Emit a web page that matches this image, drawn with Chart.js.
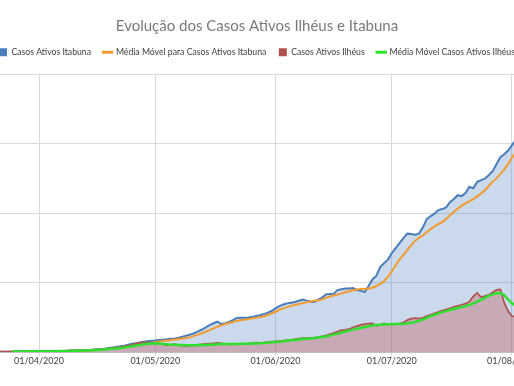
<!DOCTYPE html>
<html><head><meta charset="utf-8">
<script src="https://cdn.jsdelivr.net/npm/chart.js@4.4.0/dist/chart.umd.min.js"></script>
<style>
html,body{margin:0;padding:0;overflow:hidden;background:#fff;width:514px;height:386px;position:relative;}
#wrap{position:absolute;left:-63px;top:0;width:640px;height:386px;}
</style></head><body>
<div id="wrap"><canvas id="c" width="640" height="386"></canvas></div>
<script>
// Series: one value per day starting 16/03/2020
const seriesStart = [2020, 3, 16];
const casosItabuna = [
0,0,0,0,0,0,1,1,1,2,
2,2,3,3,3,4,4,5,5,6,
7,7,8,8,9,10,11,12,13,15,
17,19,21,24,28,32,36,41,46,52,
59,63,68,73,77,81,83,86,89,92,
95,98,103,110,118,126,135,148,162,178,
194,207,218,201,208,216,229,245,246,247,
248,253,259,265,273,283,295,314,331,342,
350,355,360,369,378,370,363,360,378,392,
415,418,420,446,452,457,458,460,446,440,
432,475,522,547,611,640,665,712,748,784,
820,852,849,845,852,896,957,978,996,1022,
1029,1040,1079,1101,1129,1122,1144,1189,1178,1223,
1237,1248,1273,1302,1352,1403,1424,1450,1489,1532,
1570,1600,1630];
const mediaItabuna = [
null,null,null,null,null,null,null,null,null,1,
1,2,2,2,3,3,3,4,4,5,
5,6,6,7,8,8,9,10,11,12,
14,15,17,19,22,25,28,32,36,41,
46,50,54,58,63,67,71,75,79,83,
87,90,94,97,100,107,116,125,135,146,
157,170,182,192,201,209,216,223,230,233,
237,242,247,251,256,266,278,290,304,314,
323,332,339,346,352,358,364,369,372,378,
390,400,407,413,422,430,437,444,450,453,
455,457,462,475,490,510,540,580,625,665,
700,735,770,800,822,840,862,885,903,920,
935,958,985,1010,1032,1052,1070,1085,1100,1120,
1140,1165,1195,1225,1250,1280,1315,1352,1400,1440,
1475,1510,1545];
const casosIlheus = [
1,1,2,2,2,3,3,3,3,3,
4,4,4,5,5,5,6,6,7,7,
8,8,9,10,11,12,13,14,15,16,
17,18,20,22,25,28,32,36,40,44,
52,60,67,69,68,67,66,60,55,50,
52,56,50,46,43,45,48,52,55,58,
60,62,66,63,58,56,55,57,58,57,
60,63,67,66,68,72,74,76,79,82,
86,88,92,97,99,99,100,102,107,112,
118,128,136,148,158,160,164,178,186,195,
201,204,206,188,196,206,199,200,202,204,
212,230,240,243,241,246,258,268,278,288,
298,305,315,326,333,340,348,362,400,425,
395,402,412,428,448,451,355,295,258,256,
254,252,250];
const mediaIlheus = [
null,null,null,null,null,null,null,null,null,3,
3,4,4,5,5,5,6,6,6,6,
6,7,7,8,8,9,9,10,11,12,
13,14,16,18,21,24,26,28,32,37,
42,47,51,55,59,62,63,61,58,55,
53,52,51,50,49,49,49,50,50,51,
52,53,55,57,58,58,58,58,59,59,
60,61,62,63,65,67,70,72,74,77,
81,84,87,90,93,96,98,101,104,108,
112,118,125,132,140,147,154,161,167,173,
180,186,191,195,197,198,199,200,201,201,
203,206,211,216,224,234,246,258,268,278,
287,294,302,310,317,323,330,338,350,362,
375,390,405,415,423,425,408,378,350,330,
310,295,285];
const seriesNames = ['Casos Ativos Itabuna','Média Móvel para Casos Ativos Itabuna','Casos Ativos Ilhéus','Média Móvel Casos Ativos Ilhéus'];
const yTicks = [0, 500, 1000, 1500, 2000];

// category labels (dd/mm/yyyy) for each day of the series
const dateLabels = [];
for (let i = 0; i < casosItabuna.length; i++) {
  const d = new Date(Date.UTC(seriesStart[0], seriesStart[1]-1, seriesStart[2] + i));
  const dd = String(d.getUTCDate()).padStart(2,'0');
  const mm = String(d.getUTCMonth()+1).padStart(2,'0');
  dateLabels.push(dd + '/' + mm + '/' + d.getUTCFullYear());
}
const isMonthStart = i => dateLabels[i] && dateLabels[i].startsWith('01/');

const FONT = 'Lato, "Liberation Sans", sans-serif';
const colors = ['#4a7ebb', '#f29b2c', '#b0504f', '#2ee02e'];
const legendStyles = ['rect', 'line', 'rect', 'line'];

const legendSpacer = {
  id: 'legendSpacer',
  beforeInit(chart) {
    const orig = chart.legend.fit;
    chart.legend.fit = function () { orig.bind(chart.legend)(); this.height += 7.5; };
  }
};

new Chart(document.getElementById('c'), {
  type: 'line',
  data: {
    labels: dateLabels,
    datasets: [
      { label: seriesNames[0], data: casosItabuna, borderColor: colors[0], backgroundColor: 'rgba(79,129,189,0.30)', fill: 'origin', borderWidth: 2, pointRadius: 0, order: 4 },
      { label: seriesNames[1], data: mediaItabuna, borderColor: colors[1], fill: false, borderWidth: 2, pointRadius: 0, order: 3 },
      { label: seriesNames[2], data: casosIlheus, borderColor: colors[2], backgroundColor: 'rgba(192,80,77,0.34)', fill: 'origin', borderWidth: 1.75, pointRadius: 0, order: 2 },
      { label: seriesNames[3], data: mediaIlheus, borderColor: colors[3], fill: false, borderWidth: 2.5, pointRadius: 0, order: 1 }
    ]
  },
  options: {
    responsive: false,
    animation: false,
    devicePixelRatio: 1,
    layout: { padding: { left: 40, right: 40, top: 0, bottom: 0 } },
    plugins: {
      tooltip: { enabled: false },
      title: {
        display: true,
        text: 'Evolução dos Casos Ativos Ilhéus e Itabuna',
        color: '#7a7a7a',
        font: { family: FONT, size: 15, weight: 'normal' },
        padding: { top: 17, bottom: 0.5 }
      },
      legend: {
        display: true,
        position: 'top',
        labels: {
          usePointStyle: true,
          boxWidth: 8, boxHeight: 8,
          padding: 12.5,
          color: '#404040',
          font: { family: FONT, size: 8.7 },
          generateLabels: chart => chart.data.datasets.map((ds, i) => ({
            text: ds.label, fillStyle: colors[i], strokeStyle: colors[i],
            lineWidth: legendStyles[i] === 'line' ? 3 : 0, pointStyle: legendStyles[i],
            fontColor: '#404040', hidden: false, datasetIndex: i
          }))
        }
      }
    },
    scales: {
      x: {
        type: 'category',
        offset: false,
        afterFit: s => { s.height = 34; },
        grid: { color: ctx => (ctx.tick && isMonthStart(ctx.tick.value)) ? '#d9d9d9' : 'rgba(0,0,0,0)', tickLength: 4, offset: false },
        border: { display: true, color: '#bfbfbf', width: 1 },
        ticks: {
          autoSkip: false, maxRotation: 0, padding: 0,
          color: '#404040', font: { family: FONT, size: 9 },
          callback: function (v) { return isMonthStart(v) ? dateLabels[v] : null; }
        }
      },
      y: {
        position: 'right',
        min: yTicks[0], max: yTicks[yTicks.length - 1],
        afterFit: s => { s.width = 9.5; },
        afterBuildTicks: s => { s.ticks = yTicks.map(v => ({ value: v })); },
        grid: { color: '#d9d9d9', drawTicks: false },
        border: { display: false },
        ticks: { display: false }
      }
    }
  },
  plugins: [legendSpacer]
});
</script>
</body></html>
